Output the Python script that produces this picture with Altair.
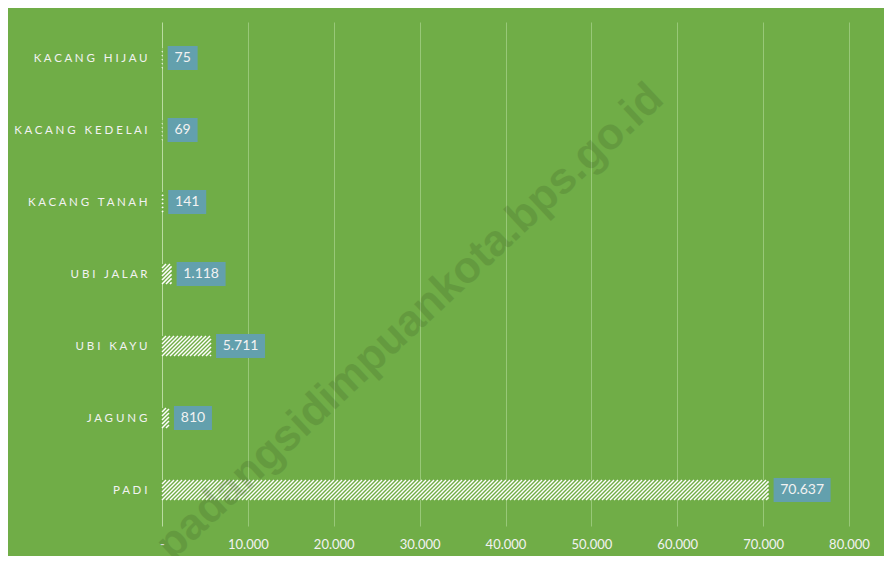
import altair as alt
import pandas as pd

# ---- data ----
categories = ["PADI", "JAGUNG", "UBI KAYU", "UBI JALAR",
              "KACANG TANAH", "KACANG KEDELAI", "KACANG HIJAU"]
values = [70637, 810, 5711, 1118, 141, 69, 75]
x_ticks = [0, 10000, 20000, 30000, 40000, 50000, 60000, 70000, 80000]
watermark = "padangsidimpuankota.bps.go.id"

df = pd.DataFrame({"cat": categories, "value": values,
                   "idx": list(range(len(categories)))})

# ---- layout constants ----
PLOT_W = 687
PLOT_H = 504
XMAX = 80000
K = XMAX / PLOT_W                  # data units per pixel (x)
ROW = PLOT_H / len(categories)     # pixels per category row
HB = 10 / ROW                      # half bar height (row units)
HL = 12 / ROW                      # half label-box height
HU = 20 * K                        # x-extent of a 45 deg stripe across the bar
STEP = 4 * K                       # stripe period

BG = "#70AD47"
TXT = "#F2F2F2"
BOX = "#63A0AD"

NB = "\u00a0"
spaced = [(NB * 3).join(NB.join(w) for w in c.split(" ")) for c in categories]
y_label_expr = "[" + ",".join("'" + s + "'" for s in spaced) + "][datum.value]"
x_label_expr = "datum.value == 0 ? '-' : replace(format(datum.value, ','), ',', '.')"

x_scale = alt.Scale(domain=[0, XMAX], nice=False, zero=True)
y_scale = alt.Scale(domain=[-0.5, len(categories) - 0.5], nice=False, zero=False)

x_axis = alt.Axis(values=x_ticks, labelExpr=x_label_expr, grid=True,
                  gridColor={"condition": {"test": "datum.value === 0", "value": "#B9DCA0"},
                             "value": "#98C878"},
                  gridWidth=1, ticks=False, domain=False, labelPadding=12,
                  labelFlush=False, labelOverlap=False,
                  labelFont="Lato", labelFontSize=13, labelColor=TXT, title=None)
y_axis = alt.Axis(values=list(range(len(categories))), labelExpr=y_label_expr,
                  ticks=False, domain=False, grid=False, labelPadding=15,
                  labelFont="Lato", labelFontSize=11.5, labelColor=TXT, title=None)

base = alt.Chart(df)

bars = base.transform_calculate(
    ylo=f"datum.idx - {HB}", yhi=f"datum.idx + {HB}", zero="0"
).mark_bar(color=BG, strokeWidth=0).encode(
    x=alt.X("value:Q", scale=x_scale, axis=x_axis),
    x2=alt.X2("zero:Q"),
    y=alt.Y("ylo:Q", scale=y_scale, axis=y_axis),
    y2="yhi:Q",
)

stripes = base.transform_calculate(
    off=f"sequence({-HU}, datum.value, {STEP})"
).transform_flatten(["off"]).transform_calculate(
    xa="max(0, datum.off)",
    xb=f"min(datum.value, datum.off + {HU})",
).transform_filter("datum.xb > datum.xa").transform_calculate(
    ya=f"datum.idx - {HB} + (datum.xa - datum.off) / {HU} * {2 * HB}",
    yb=f"datum.idx - {HB} + (datum.xb - datum.off) / {HU} * {2 * HB}",
).mark_rule(color="white", strokeWidth=1.5, strokeCap="butt").encode(
    x=alt.X("xa:Q", scale=x_scale, axis=x_axis),
    x2="xb:Q",
    y=alt.Y("ya:Q", scale=y_scale, axis=y_axis),
    y2="yb:Q",
)

lab = base.transform_calculate(
    lbl="replace(format(datum.value, ','), ',', '.')"
).transform_calculate(
    dots="indexof(datum.lbl, '.') >= 0 ? 1 : 0"
).transform_calculate(
    bw="14 + 8 * (length(datum.lbl) - datum.dots) + 3 * datum.dots"
).transform_calculate(
    bx1=f"datum.value + 5 * {K}",
    bx2=f"datum.value + (5 + datum.bw) * {K}",
    by1=f"datum.idx - {HL}",
    by2=f"datum.idx + {HL}",
).transform_calculate(
    bxm="(datum.bx1 + datum.bx2) / 2"
)

boxes = lab.mark_rect(color=BOX).encode(
    x=alt.X("bx1:Q", scale=x_scale, axis=x_axis),
    x2="bx2:Q",
    y=alt.Y("by1:Q", scale=y_scale, axis=y_axis),
    y2="by2:Q",
)

texts = lab.mark_text(font="Lato", fontSize=14, color=TXT,
                      align="center", baseline="middle").encode(
    x=alt.X("bxm:Q", scale=x_scale, axis=x_axis),
    y=alt.Y("idx:Q", scale=y_scale, axis=y_axis),
    text="lbl:N",
)

wm = alt.Chart(pd.DataFrame({"t": [watermark]})).mark_text(
    font="Liberation Sans", fontWeight="bold", fontSize=44, angle=317,
    color="black", opacity=0.1, align="center", baseline="middle"
).encode(x=alt.value(248), y=alt.value(300), text="t:N")

chart = alt.layer(bars, stripes, boxes, texts, wm).properties(
    width=PLOT_W, height=PLOT_H,
    padding={"left": 154, "top": 14, "right": 35, "bottom": 30},
    autosize=alt.AutoSizeParams(type="none"),
).configure(background=BG).configure_view(stroke=None)

chart.save("out.html", embed_options={"renderer": "svg", "actions": False})
